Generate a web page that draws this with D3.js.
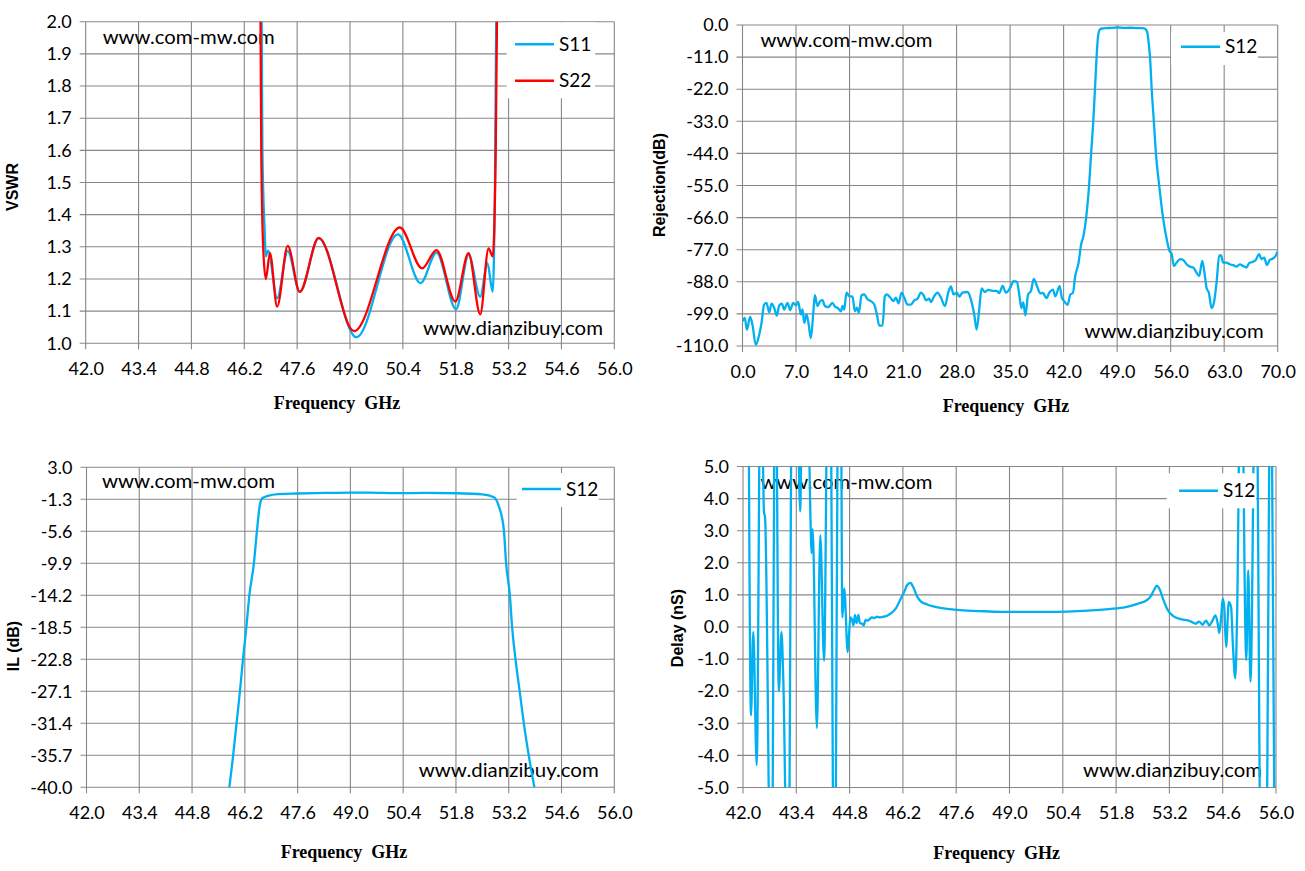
<!DOCTYPE html>
<html><head><meta charset="utf-8">
<script src="https://cdnjs.cloudflare.com/ajax/libs/d3/7.8.5/d3.min.js"></script>
<style>
html,body{margin:0;padding:0;background:#fff;}
svg{display:block;}
.tick text{font-family:Lato,"Liberation Sans",sans-serif;font-size:18px;fill:#000;}
</style></head><body>
<svg id="c" width="1305" height="871"></svg>
<script>
// ---------- DATA ----------
const freqTicks = [42.0,43.4,44.8,46.2,47.6,49.0,50.4,51.8,53.2,54.6,56.0];
const rejFreqTicks = [0,7,14,21,28,35,42,49,56,63,70];
const vswrTicks = [1.0,1.1,1.2,1.3,1.4,1.5,1.6,1.7,1.8,1.9,2.0];
const rejTicks = [0,-11,-22,-33,-44,-55,-66,-77,-88,-99,-110];
const ilTicks = [3.0,-1.3,-5.6,-9.9,-14.2,-18.5,-22.8,-27.1,-31.4,-35.7,-40.0];
const delayTicks = [5,4,3,2,1,0,-1,-2,-3,-4,-5];

const vswrS11 = [[46.63,2.6],[46.68,1.6],[46.74,1.35],[46.77,1.27],[46.83,1.288],[47.07,1.14],[47.35,1.287],[47.67,1.16],[48.17,1.326],[49.17,1.019],[50.27,1.339],[50.87,1.187],[51.29,1.282],[51.81,1.106],[52.14,1.275],[52.45,1.145],[52.64,1.249],[52.78,1.16],[52.84,1.5],[52.91,2.6]];
const vswrS22 = [[46.60,2.6],[46.65,1.6],[46.70,1.3],[46.77,1.20],[46.88,1.28],[47.07,1.114],[47.35,1.303],[47.67,1.16],[48.17,1.328],[49.11,1.038],[50.32,1.36],[50.91,1.233],[51.29,1.29],[51.79,1.13],[52.14,1.28],[52.45,1.09],[52.67,1.295],[52.78,1.27],[52.86,1.6],[52.94,2.6]];

const rejS12 = [[0,-101.5],[0.3,-100.4],[0.57,-104.4],[1.0,-100],[1.3,-102.7],[1.74,-109.6],[2.18,-106.2],[2.49,-102.1],[2.83,-95.8],[3.14,-95.2],[3.49,-98.4],[3.8,-95.5],[4.14,-96.9],[4.49,-99.6],[4.8,-96.1],[5.15,-95.5],[5.45,-97.5],[5.89,-95.2],[6.24,-97.7],[6.63,-95.2],[6.98,-96.1],[7.28,-94.9],[7.63,-99.2],[7.85,-97.5],[8.07,-102.1],[8.37,-99.2],[8.63,-102.1],[8.94,-107.3],[9.29,-97.5],[9.46,-92.6],[9.81,-96.3],[10.16,-94.6],[10.47,-94.3],[10.77,-96.3],[11.2,-96.7],[11.77,-95.2],[12.12,-96.6],[12.43,-96.9],[12.87,-98.1],[13.08,-96.3],[13.3,-97.5],[13.6,-91.7],[13.96,-92.9],[14.39,-93.1],[14.7,-98.1],[14.96,-96.9],[15.22,-98.6],[15.57,-92.6],[15.92,-92.3],[16.35,-94],[16.79,-94.6],[17.23,-95.8],[17.58,-99.2],[17.88,-103],[18.32,-103],[18.62,-92.9],[18.88,-92.3],[19.32,-93.4],[19.76,-94.6],[20.06,-93.4],[20.41,-95.4],[20.8,-91.7],[21.15,-93.4],[21.59,-95.8],[22.02,-95.8],[22.46,-94.4],[22.9,-93.8],[23.33,-91.7],[23.68,-92.6],[23.99,-94.3],[24.42,-93.8],[24.64,-94.9],[25.08,-92.9],[25.51,-91.7],[25.95,-93.4],[26.47,-96.3],[26.91,-91.7],[27.26,-89.6],[27.61,-92.3],[28.05,-91.7],[28.35,-93.1],[28.78,-91.7],[29.44,-91.5],[29.87,-94],[30.31,-99.2],[30.62,-104.4],[30.96,-97.5],[31.27,-90.3],[31.71,-91.5],[32.14,-90.8],[32.71,-91.1],[33.27,-91.1],[33.58,-91.9],[34.02,-89.4],[34.45,-91.7],[35.02,-90],[35.46,-87.8],[35.9,-88],[36.23,-93],[36.48,-97],[36.72,-95.1],[37.0,-99.5],[37.35,-92.4],[37.74,-91],[38.1,-87],[38.52,-89.5],[38.96,-92],[39.3,-91.8],[39.74,-93.6],[40.17,-91.6],[40.61,-90.7],[40.91,-93],[41.48,-89.5],[41.78,-93.6],[42.09,-94.7],[42.52,-95.9],[42.87,-92.4],[43.22,-91.8],[43.52,-86],[43.96,-81.4],[44.26,-75.6],[44.61,-72.1],[44.95,-66],[45.33,-55],[45.6,-44],[45.88,-33],[46.1,-22],[46.31,-11],[46.5,-4],[46.72,-1.6],[47.0,-1.2],[47.6,-1.05],[48.3,-1.0],[49.1,-0.85],[49.9,-1.0],[50.7,-0.95],[51.5,-1.05],[52.3,-1.1],[52.7,-1.4],[52.95,-2.6],[53.12,-6],[53.3,-11],[53.52,-22],[53.8,-33],[54.07,-44],[54.5,-55],[55.0,-66],[55.48,-73.3],[55.83,-77.3],[56.13,-78.5],[56.43,-82.6],[56.78,-81.4],[57.22,-80.2],[57.65,-80.5],[58.09,-82],[58.52,-82.8],[58.96,-83.1],[59.39,-84.9],[59.74,-86],[60.13,-80.8],[60.39,-84.3],[60.7,-90.1],[61.0,-91.8],[61.35,-97],[61.65,-95.3],[62.0,-88.3],[62.35,-79.1],[62.57,-78.9],[62.87,-81.4],[63.3,-81.4],[63.74,-82],[64.17,-82.3],[64.61,-82.8],[65.04,-82],[65.48,-82.6],[65.91,-83.1],[66.26,-81.6],[66.7,-81.2],[67.13,-80.5],[67.57,-78.5],[67.87,-80.2],[68.22,-79.7],[68.61,-82.3],[68.96,-80.5],[69.39,-80],[69.74,-79.1],[69.96,-77.7]];

const ilS12 = [[45.79,-40],[45.89,-35.7],[45.98,-31.4],[46.07,-27.1],[46.15,-22.8],[46.24,-18.5],[46.32,-14.2],[46.44,-9.9],[46.52,-5.6],[46.59,-2.3],[46.66,-1.16],[46.81,-0.85],[47.08,-0.6],[47.6,-0.52],[48.3,-0.45],[49.0,-0.4],[49.5,-0.4],[50.2,-0.47],[51.0,-0.45],[51.83,-0.49],[52.5,-0.63],[52.81,-1.03],[52.94,-2.28],[53.07,-5.4],[53.13,-9.9],[53.23,-14.2],[53.29,-18.5],[53.38,-22.8],[53.49,-27.1],[53.60,-31.4],[53.73,-35.7],[53.88,-40]];

const delayS12 = [[42.14,9],[42.21,-2.75],[42.27,-0.15],[42.36,-4.3],[42.47,10],[42.55,3.6],[42.58,3.4],[42.745,-10],[42.855,10],[42.94,-2.0],[43.01,-0.15],[43.06,-1.7],[43.185,-10],[43.30,10],[43.40,10],[43.50,3.6],[43.58,10],[43.66,10],[43.78,3.0],[43.80,2.3],[43.83,3.05],[43.94,-3.15],[44.03,2.85],[44.13,-1.05],[44.24,10],[44.28,10],[44.40,-10],[44.52,10],[44.56,10],[44.61,0.3],[44.66,1.2],[44.75,-0.78],[44.82,0.3],[44.87,0.2],[44.90,0.05],[44.94,0.38],[44.98,0.12],[45.03,0.38],[45.07,0.12],[45.13,0.1],[45.17,0.05],[45.22,0.22],[45.27,0.2],[45.33,0.25],[45.38,0.3],[45.45,0.28],[45.52,0.32],[45.6,0.3],[45.7,0.32],[45.8,0.36],[45.9,0.44],[46.02,0.59],[46.13,0.85],[46.24,1.11],[46.32,1.32],[46.40,1.37],[46.48,1.22],[46.57,0.96],[46.67,0.8],[46.84,0.7],[47.0,0.64],[47.22,0.59],[47.55,0.54],[47.88,0.51],[48.32,0.49],[48.87,0.47],[49.42,0.47],[49.97,0.47],[50.51,0.48],[51.06,0.51],[51.61,0.56],[52.05,0.62],[52.38,0.73],[52.6,0.83],[52.71,0.96],[52.8,1.16],[52.87,1.29],[52.95,1.16],[53.04,0.85],[53.15,0.54],[53.31,0.33],[53.48,0.25],[53.6,0.22],[53.71,0.2],[53.8,0.15],[53.89,0.1],[53.98,0.17],[54.07,0.07],[54.16,0.2],[54.25,0.05],[54.33,0.2],[54.41,0.36],[54.47,0.1],[54.51,-0.19],[54.56,0.31],[54.6,0.88],[54.64,0.62],[54.69,-0.62],[54.76,0.78],[54.82,0.62],[54.87,-0.62],[54.93,-1.6],[54.98,0.5],[55.08,10],[55.22,-1.03],[55.27,1.76],[55.33,-1.7],[55.47,10],[55.62,-10],[55.72,-10],[55.87,10],[55.98,-10]];

// ---------- DRAW ----------
const BLUE = "#00B0F0", RED = "#FF0000", GRID = "#878787";
const svg = d3.select("#c");
svg.append("rect").attr("width",1305).attr("height",871).attr("fill","#fff");
const fmt = d => d.toFixed(1);
let clipId = 0;

function panel(cfg){
  const g = svg.append("g");
  const x = d3.scaleLinear().domain(cfg.xd).range([cfg.l, cfg.r]);
  const y = d3.scaleLinear().domain(cfg.yd).range([cfg.b, cfg.t]);
  // grid
  g.selectAll(null).data(cfg.yt).join("line")
    .attr("x1", cfg.l-6).attr("x2", cfg.r).attr("y1", d=>y(d)).attr("y2", d=>y(d))
    .attr("stroke", GRID).attr("stroke-width",1.1);
  g.selectAll(null).data(cfg.xt).join("line")
    .attr("y1", cfg.t).attr("y2", cfg.b+6).attr("x1", d=>x(d)).attr("x2", d=>x(d))
    .attr("stroke", GRID).attr("stroke-width",1.1);
  // axes labels
  const ay = g.append("g").attr("transform",`translate(${cfg.l},0)`)
    .call(d3.axisLeft(y).tickValues(cfg.yt).tickFormat(fmt).tickSize(0).tickPadding(14));
  ay.select(".domain").remove();
  const ax = g.append("g").attr("transform",`translate(0,${cfg.b})`)
    .call(d3.axisBottom(x).tickValues(cfg.xt).tickFormat(fmt).tickSize(0).tickPadding(19));
  ax.select(".domain").remove();
  // watermarks
  cfg.marks.forEach(m=>{
    g.append("text").attr("x",m.x).attr("y",m.y).attr("textLength",m.w).attr("lengthAdjust","spacingAndGlyphs")
      .attr("font-family","Lato,'Liberation Sans',sans-serif").attr("font-size",19).attr("fill","#000").text(m.t);
  });
  // clip
  const id = "clip"+(clipId++);
  svg.append("clipPath").attr("id",id).append("rect")
    .attr("x",cfg.l).attr("y",cfg.t).attr("width",cfg.r-cfg.l).attr("height",cfg.b-cfg.t);
  const line = d3.line().x(d=>x(d[0])).y(d=>y(d[1])).curve(d3.curveMonotoneX);
  cfg.series.forEach(s=>{
    g.append("path").attr("clip-path",`url(#${id})`).datum(s.data).attr("d",line)
      .attr("fill","none").attr("stroke",s.color).attr("stroke-width",2.3).attr("stroke-linejoin","round");
  });
  // legend
  const L = cfg.legend;
  g.append("rect").attr("x",L.x).attr("y",L.y).attr("width",L.w).attr("height",L.h).attr("fill","#fff");
  cfg.series.forEach((s,i)=>{
    const yy = L.ly + i*L.dy;
    g.append("line").attr("x1",L.lx).attr("x2",L.lx+39).attr("y1",yy).attr("y2",yy)
      .attr("stroke",s.color).attr("stroke-width",2.6);
    g.append("text").attr("x",L.lx+44).attr("y",yy).attr("dy","0.35em")
      .attr("font-family","Lato,'Liberation Sans',sans-serif").attr("font-size",19).text(s.name);
  });
  // axis titles
  g.append("text").attr("transform",`translate(${cfg.yl.x},${cfg.yl.y}) rotate(-90)`).attr("dy","0.35em")
    .attr("text-anchor","middle").attr("font-family","'Liberation Sans',Arial,sans-serif").attr("font-weight","bold")
    .attr("font-size",16).text(cfg.yl.t);
  g.append("text").attr("x",cfg.xl.x).attr("y",cfg.xl.y).attr("text-anchor","middle")
    .attr("font-family","'Liberation Serif','DejaVu Serif',serif").attr("font-weight","bold").attr("font-size",18)
    .style("white-space","pre").text("Frequency  GHz");
}

panel({l:85.7,r:614.3,t:21.7,b:343.3,xd:[42,56],yd:[1,2],xt:freqTicks,yt:vswrTicks,
  series:[{name:"S11",color:BLUE,data:vswrS11},{name:"S22",color:RED,data:vswrS22}],
  legend:{x:506.7,y:22.3,w:88.5,h:76,lx:515,ly:44.3,dy:36.4},
  marks:[{t:"www.com-mw.com",x:102.7,y:44.3,w:172},{t:"www.dianzibuy.com",x:423,y:335,w:180}],
  yl:{t:"VSWR",x:12.5,y:187},xl:{x:337,y:409}});

panel({l:742.5,r:1277.7,t:25,b:346,xd:[0,70],yd:[-110,0],xt:rejFreqTicks,yt:rejTicks,
  series:[{name:"S12",color:BLUE,data:rejS12}],
  legend:{x:1171,y:32,w:87,h:33,lx:1181,ly:46.7,dy:0},
  marks:[{t:"www.com-mw.com",x:760.4,y:46.7,w:172},{t:"www.dianzibuy.com",x:1084.6,y:338.3,w:179}],
  yl:{t:"Rejection(dB)",x:659,y:185},xl:{x:1006,y:412}});

panel({l:86.5,r:614.3,t:467.3,b:787.3,xd:[42,56],yd:[-40,3],xt:freqTicks,yt:ilTicks,
  series:[{name:"S12",color:BLUE,data:ilS12}],
  legend:{x:516.7,y:473,w:82,h:34,lx:522,ly:489,dy:0},
  marks:[{t:"www.com-mw.com",x:102,y:488.3,w:173},{t:"www.dianzibuy.com",x:418.75,y:777.3,w:180}],
  yl:{t:"IL (dB)",x:13.75,y:646},xl:{x:344,y:858}});

panel({l:743,r:1276,t:466.5,b:787.5,xd:[42,56],yd:[-5,5],xt:freqTicks,yt:delayTicks,
  series:[{name:"S12",color:BLUE,data:delayS12}],
  legend:{x:1166.7,y:473.3,w:89.3,h:35,lx:1179,ly:490.7,dy:0},
  marks:[{t:"www.com-mw.com",x:760.4,y:489.3,w:172},{t:"www.dianzibuy.com",x:1083,y:777.3,w:179}],
  yl:{t:"Delay (nS)",x:677,y:628},xl:{x:996.7,y:859}});
</script>
</body></html>
